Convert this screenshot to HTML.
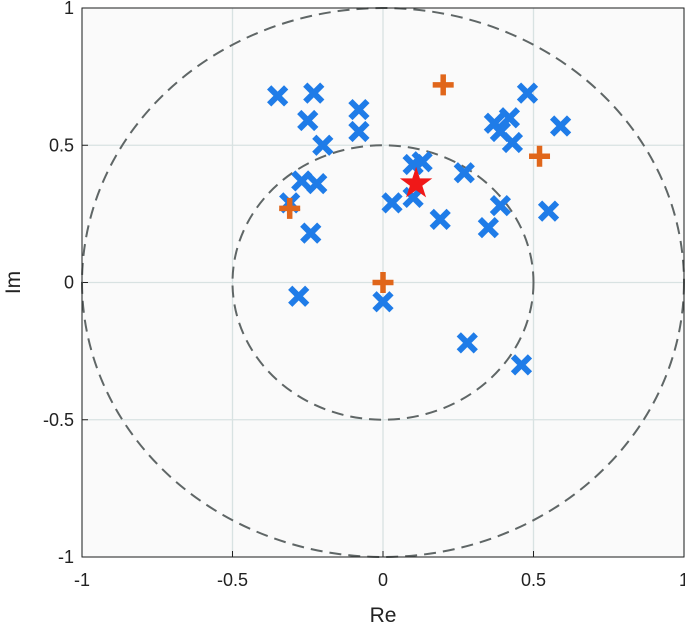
<!DOCTYPE html>
<html><head><meta charset="utf-8"><style>
body{margin:0;background:#fff;}
svg text{font-family:"Liberation Sans",sans-serif;fill:#222;}
</style></head><body>
<svg width="685" height="629" viewBox="0 0 685 629">
<g id="plot"></g>
</svg>
<script>
const crossRe=[-0.35,-0.23,-0.25,-0.20,-0.08,-0.08,-0.27,-0.22,-0.31,-0.24,-0.28,0.0,0.03,0.10,0.13,0.10,0.19,0.27,0.35,0.39,0.28,0.46,0.55,0.59,0.48,0.37,0.42,0.39,0.43];
const crossIm=[0.68,0.69,0.59,0.50,0.63,0.55,0.37,0.36,0.29,0.18,-0.05,-0.07,0.29,0.43,0.44,0.31,0.23,0.40,0.20,0.28,-0.22,-0.30,0.26,0.57,0.69,0.58,0.60,0.55,0.51];
const plusRe=[0.20,0.52,-0.31,0.0];
const plusIm=[0.72,0.46,0.27,0.0];
const starRe=[0.11];
const starIm=[0.36];
const ticks=[-1,-0.5,0,0.5,1];
const tickLabels=["-1","-0.5","0","0.5","1"];
const circleRadii=[0.5,1];

const L=82,R=684,T=8,B=557;
const sx=v=>L+(v+1)/2*(R-L);
const sy=v=>B-(v+1)/2*(B-T);
const NS="http://www.w3.org/2000/svg";
const g=document.getElementById('plot');
function mk(tag,a){const e=document.createElementNS(NS,tag);for(const k in a)e.setAttribute(k,a[k]);g.appendChild(e);return e;}
let e=mk('rect',{x:L,y:T,width:R-L,height:B-T,fill:'#fafafa'});


ticks.forEach((t,i)=>{
  let a=mk('line',{x1:sx(t),x2:sx(t),y1:T,y2:B,stroke:'#d8e2e2','stroke-width':1.3});
  
  
  let b=mk('line',{x1:L,x2:R,y1:sy(t),y2:sy(t),stroke:'#d8e2e2','stroke-width':1.3});
  
  
  let tx=mk('text',{x:sx(t),y:B+29,'font-size':18,'text-anchor':'middle'});tx.textContent=tickLabels[i];
  
  
  let ty=mk('text',{x:L-8,y:sy(t)+6,'font-size':18,'text-anchor':'end'});ty.textContent=tickLabels[i];
  
  
  let k1=mk('line',{x1:sx(t),x2:sx(t),y1:B,y2:B-6,stroke:'#222'});
  
  
  let k2=mk('line',{x1:L,x2:L+6,y1:sy(t),y2:sy(t),stroke:'#222'});
  
  
});
circleRadii.forEach(r=>{
  let c=mk('ellipse',{cx:sx(0),cy:sy(0),rx:sx(r)-sx(0),ry:sy(0)-sy(r),fill:'none',stroke:'#5f6666','stroke-width':2,'stroke-dasharray':'12,7'});
  
  
});
e=mk('rect',{x:L,y:T,width:R-L,height:B-T,fill:'none',stroke:'#222','stroke-width':1});


crossRe.forEach((v,i)=>{
  const x=sx(v),y=sy(crossIm[i]),d=8.5;
  let p=mk('path',{d:`M${x-d},${y-d}L${x+d},${y+d}M${x-d},${y+d}L${x+d},${y-d}`,stroke:'#1f7ce8','stroke-width':6});
  
  
});
plusRe.forEach((v,i)=>{
  const x=sx(v),y=sy(plusIm[i]),d=10.5;
  let p=mk('path',{d:`M${x-d},${y}L${x+d},${y}M${x},${y-d}L${x},${y+d}`,stroke:'#e0661a','stroke-width':5.5});
  
  
});
starRe.forEach((v,i)=>{
  const x=sx(v),y=sy(starIm[i]);let pts=[];
  for(let k=0;k<10;k++){const r=k%2?6.5:17,a=-Math.PI/2+k*Math.PI/5;pts.push((x+r*Math.cos(a)).toFixed(1)+','+(y+r*Math.sin(a)).toFixed(1));}
  let p=mk('polygon',{points:pts.join(' '),fill:'#f01818'});
  
  
});
e=mk('text',{x:(L+R)/2,y:622,'font-size':21,'text-anchor':'middle'});e.textContent='Re';


e=mk('text',{x:20,y:(T+B)/2,'font-size':21,'text-anchor':'middle',transform:`rotate(-90 20 ${(T+B)/2})`});e.textContent='Im';


</script>
</body></html>
